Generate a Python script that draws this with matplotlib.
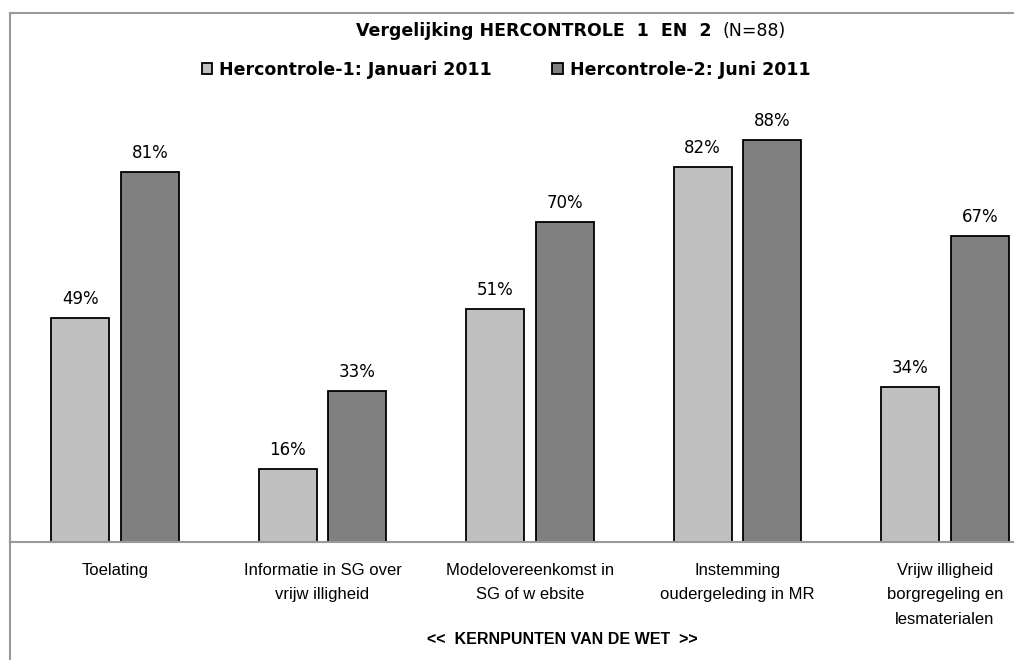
import numpy as np
import matplotlib.pyplot as plt
from matplotlib.lines import Line2D

categories = ["Toelating",
              "Informatie in SG over\nvrijw illigheid",
              "Modelovereenkomst in\nSG of w ebsite",
              "Instemming\noudergeleding in MR",
              "Vrijw illigheid\nborgregeling en\nlesmaterialen"]
hc1 = [49, 16, 51, 82, 34]
hc2 = [81, 33, 70, 88, 67]
series_names = ["Hercontrole-1: Januari 2011", "Hercontrole-2: Juni 2011"]

W, H = 1014, 660
fig = plt.figure(figsize=(W / 100, H / 100), dpi=100)
# axes from x=10..1014 px, y=13..542 px
ax = fig.add_axes([10 / W, (H - 542) / H, (W - 10) / W, (542 - 13) / H])

x = np.arange(len(categories))
bw = 0.28
off = 0.168
b1 = ax.bar(x - off, hc1, bw, color="#c0c0c0", edgecolor="black", linewidth=1.3)
b2 = ax.bar(x + off, hc2, bw, color="#808080", edgecolor="black", linewidth=1.3)

for bars, vals in ((b1, hc1), (b2, hc2)):
    for r, v in zip(bars, vals):
        ax.text(r.get_x() + r.get_width() / 2, v + 2.2, f"{v}%",
                ha="center", va="bottom", fontsize=12, family="DejaVu Sans")

ax.set_xlim(-0.506, 4.333)
ax.set_ylim(0, 115.8)
ax.set_yticks([])
ax.set_xticks([])
ax.spines["right"].set_visible(False)
for s in ("top", "left", "bottom"):
    ax.spines[s].set_color("#999999")
    ax.spines[s].set_linewidth(1.5)

# category labels
for i, c in enumerate(categories):
    ax.text(i, -4.5, c, ha="center", va="top", fontsize=12,
            family="Liberation Sans", linespacing=1.8)
fig.text(562 / W, 1 - 640 / H, "<<  KERNPUNTEN VAN DE WET  >>", ha="center",
         va="center", fontsize=11.5, fontweight="bold", family="Liberation Sans")

# left frame line continuing under the baseline
fig.add_artist(Line2D([10 / W, 10 / W], [0, (H - 542) / H], color="#999999",
                      linewidth=1.5, transform=fig.transFigure))

# title
fig.text(356 / W, 1 - 31 / H, "Vergelijking HERCONTROLE  1  EN  2", ha="left",
         va="center", fontsize=12.5, fontweight="bold")
fig.text(722 / W, 1 - 31 / H, "(N=88)", ha="left", va="center", fontsize=12.5)

leg = ax.legend([b1, b2], series_names, loc="center", ncol=2,
                bbox_to_anchor=(506 / W, 1 - 70 / H),
                bbox_transform=fig.transFigure, frameon=False,
                handlelength=0.6, handleheight=0.6, handletextpad=0.4,
                columnspacing=3.5, prop={"weight": "bold", "size": 12.5})

fig.savefig("out.png", dpi=100)
